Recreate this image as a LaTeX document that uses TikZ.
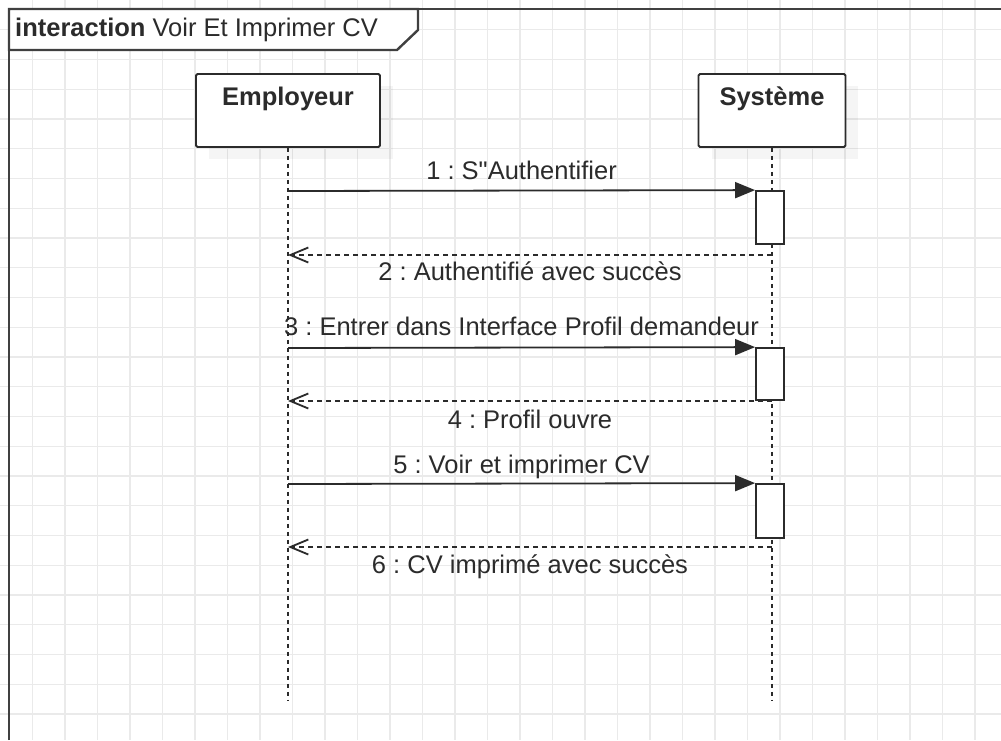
\documentclass[tikz,border=0pt]{standalone}
\usepackage{fontspec}
\setmainfont{Liberation Sans}[Ligatures=TeXOff]
\usepackage{xcolor}
\usetikzlibrary{arrows.meta, positioning, calc, backgrounds}
\definecolor{ink}{HTML}{2B2B2B}
\definecolor{gridgray}{HTML}{EAEAEA}
\frenchspacing

\begin{document}
\begin{tikzpicture}[x=1pt, y=-1pt,
	txt/.style={font=\fontsize{25.5}{30}\selectfont, text=ink, inner sep=0pt},
	actor/.style={draw=ink, line width=1.8pt, fill=white, rounded corners=1.5pt,
		inner sep=14pt, text height=17pt, text depth=28pt,
		font=\fontsize{25.5}{30}\selectfont\bfseries, text=ink},
	activation/.style={draw=ink, line width=1.8pt, fill=white, minimum width=28pt, inner sep=0pt},
	lifeline/.style={draw=ink, line width=1.3pt, dash pattern=on 4pt off 4pt},
	call/.style={draw=ink, line width=1.8pt, -{Triangle[length=20pt, width=16pt]}},
	reply/.style={draw=ink, line width=1.8pt, dash pattern=on 5pt off 4pt, -{Straight Barb[length=18pt, width=15pt]}},
	frame/.style={draw=ink!90, line width=2.4pt},
	gridline/.style={draw=gridgray, line width=1.3pt},
	boxshadow/.style={fill=black, fill opacity=0.04}]
	
	\useasboundingbox (0,0) rectangle (1001,740);
	
	% Frame
	\draw[frame] (9,740) -- (9,9) -- (1001,9);
	\draw[frame, fill=white] (9,9) -- (418,9) -- (418,30) -- (397,50) -- (9,50) -- cycle;
	\node[txt, anchor=base west] (title) at (15,36) {\textbf{interaction} Voir Et Imprimer CV};
	
	% Lifelines
	\node[actor, minimum width=184pt] (emp) at (288,110.5) {Employeur};
	\node[actor, minimum width=147pt] (sys) at (772,110.5) {Système};
	\coordinate (empEnd) at (288,700);
	\coordinate (sysEnd) at (772,700);
	\draw[lifeline] (emp.south) -- (empEnd);
	\draw[lifeline] (sys.south) -- (sysEnd);
	
	% Activations
	\node[activation, minimum height=53pt] (act1) at (770,217.5) {};
	\node[activation, minimum height=52pt] (act2) at (770,374) {};
	\node[activation, minimum height=54pt] (act3) at (770,511) {};
	
	% Messages
	\coordinate (e1) at (288,191);
	\coordinate (e2) at (288,255);
	\coordinate (s2) at (772,255);
	\coordinate (e3) at (288,348);
	\coordinate (e4) at (288,401);
	\coordinate (s4) at (772,401);
	\coordinate (e5) at (288,484);
	\coordinate (e6) at (288,547);
	\coordinate (s6) at (772,547);
	
	\draw[call] (e1) -- (act1.north west)
	node[txt, midway, anchor=base, yshift=11pt] (m1) {1 : S"Authentifier};
	\draw[reply] (s2) -- (e2)
	node[txt, midway, anchor=base, yshift=-25pt] (m2) {2 : Authentifié avec succès};
	\draw[call] (e3) -- (act2.north west)
	node[txt, midway, anchor=base, yshift=12pt] (m3) {3 : Entrer dans Interface Profil demandeur};
	\draw[reply] (s4) -- (e4)
	node[txt, midway, anchor=base, yshift=-27pt] (m4) {4 : Profil ouvre};
	\draw[call] (e5) -- (act3.north west)
	node[txt, midway, anchor=base, yshift=10pt] (m5) {5 : Voir et imprimer CV};
	\draw[reply] (s6) -- (e6)
	node[txt, midway, anchor=base, yshift=-26pt] (m6) {6 : CV imprimé avec succès};
	
	% Grid and shadows
	\begin{scope}[on background layer]
		\fill[white] (0,0) rectangle (1001,740);
		\foreach \i in {1,...,30}
		\draw[gridline] (32.5*\i,0) -- (32.5*\i,740);
		\foreach \j in {1,...,24}
		\draw[gridline] (0,29.75*\j) -- (1001,29.75*\j);
		\fill[boxshadow] ($(emp.north west)+(14,13)$) rectangle ($(emp.south east)+(12,11)$);
		\fill[boxshadow] ($(sys.north west)+(14,13)$) rectangle ($(sys.south east)+(12,11)$);
	\end{scope}
	
\end{tikzpicture}
\end{document}
